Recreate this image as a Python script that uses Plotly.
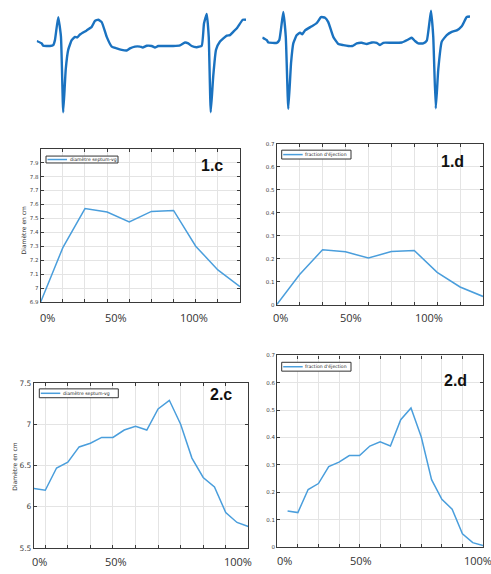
import plotly.graph_objects as go

W, H = 491, 574

# ---------------- data ----------------
# ECG traces (time in ms, amplitude in arbitrary mV units)
ecg1_t = [0, 20, 26, 53, 66, 73, 86, 97, 106, 116, 126, 140, 153, 162, 173, 200, 220, 233, 246, 260,
          280, 300, 320, 340, 360, 373, 393, 413, 424, 440, 460, 473, 486, 520, 546, 573, 593, 606, 620,
          640, 660, 669, 680, 688, 696, 706, 717, 733, 760, 773, 786, 802, 824, 837]
ecg1_v = [0.18, 0.10, 0.02, 0.01, 0.04, 0.21, 0.99, 0.33, -2.23, -0.79, -0.12, 0.21, 0.32, 0.30, 0.40,
          0.54, 0.66, 0.86, 0.90, 0.82, 0.32, -0.01, -0.07, -0.12, -0.14, -0.07, -0.01, -0.01, -0.04,
          0.02, 0.01, -0.04, 0.01, 0.01, 0.01, 0.03, 0.13, 0.10, 0.01, -0.03, 0.02, 0.77, 1.10, 0.32,
          -2.23, -1.01, -0.12, 0.16, 0.36, 0.38, 0.49, 0.63, 0.90, 0.90]
ecg2_t = [0, 18, 24, 58, 68, 84, 94, 104, 115, 124, 138, 151, 160, 171, 198, 218, 235, 251, 264, 284,
          304, 324, 344, 360, 378, 398, 418, 438, 458, 471, 484, 518, 558, 584, 598, 611, 624, 644, 658,
          675, 684, 694, 704, 718, 738, 758, 778, 798, 818, 831]
ecg2_v = [0.20, 0.11, 0.03, 0.02, 0.11, 1.06, 0.22, -2.22, -0.67, 0.00, 0.28, 0.36, 0.31, 0.44, 0.58,
          0.69, 0.89, 0.87, 0.72, 0.22, -0.02, -0.06, -0.09, -0.09, 0.00, 0.02, -0.02, 0.03, 0.02, -0.06,
          0.02, 0.02, 0.03, 0.13, 0.19, 0.08, 0.00, 0.00, 0.09, 1.11, 0.22, -2.20, -0.89, 0.06, 0.28,
          0.39, 0.44, 0.58, 0.89, 0.91]

# Panel 1 (10 samples)
idx1 = list(range(1, 11))
diam_1c = [6.90, 7.29, 7.57, 7.545, 7.475, 7.55, 7.557, 7.30, 7.13, 7.01]
fe_1d = [0.0, 0.131, 0.239, 0.230, 0.203, 0.231, 0.236, 0.141, 0.077, 0.036]

# Panel 2 (20 samples)
idx2 = list(range(1, 21))
diam_2c = [6.22, 6.20, 6.47, 6.54, 6.725, 6.77, 6.84, 6.84, 6.93, 6.975, 6.93, 7.185, 7.29, 7.00,
           6.59, 6.355, 6.24, 5.93, 5.81, 5.76]
fe_2d = [0.132, 0.126, 0.210, 0.232, 0.294, 0.310, 0.334, 0.334, 0.369, 0.384, 0.369, 0.465, 0.508,
         0.402, 0.246, 0.174, 0.138, 0.048, 0.016, 0.006]

series_diam = "diamètre septum-vg"
series_fe = "fraction d'éjection"
ytitle = "Diamètre en cm"
pct_labels = ["0%", "50%", "100%"]
panel_tags = ["1.c", "1.d", "2.c", "2.d"]

ticks_1c = [6.9, 7.0, 7.1, 7.2, 7.3, 7.4, 7.5, 7.6, 7.7, 7.8, 7.9]
ticktext_1c = ["6.9", "7", "7.1", "7.2", "7.3", "7.4", "7.5", "7.6", "7.7", "7.8", "7.9"]
ticks_fe = [0, 0.1, 0.2, 0.3, 0.4, 0.5, 0.6, 0.7]
ticktext_fe = ["0", "0.1", "0.2", "0.3", "0.4", "0.5", "0.6", "0.7"]
ticks_2c = [5.5, 6.0, 6.5, 7.0, 7.5]
ticktext_2c = ["5.5", "6", "6.5", "7", "7.5"]

# ---------------- helpers ----------------
def xd(a, b):
    return [a / W, b / W]

def yd(top, bottom):
    return [1 - bottom / H, 1 - top / H]

def px(x):
    return x / W

def py(y):
    return 1 - y / H

ECG_COL = "#1a72c0"
LINE_COL = "#4a9edc"
FRAME = "#3a3a3a"
GRID = "#e4e4e4"

fig = go.Figure()

fig.add_trace(go.Scatter(x=ecg1_t, y=ecg1_v, mode="lines", line=dict(color=ECG_COL, width=2.4, shape="spline", smoothing=0.4),
                         xaxis="x", yaxis="y", showlegend=False, hoverinfo="skip"))
fig.add_trace(go.Scatter(x=ecg2_t, y=ecg2_v, mode="lines", line=dict(color=ECG_COL, width=2.4, shape="spline", smoothing=0.4),
                         xaxis="x2", yaxis="y2", showlegend=False, hoverinfo="skip"))

fig.add_trace(go.Scatter(x=idx1, y=diam_1c, mode="lines", name=series_diam, line=dict(color=LINE_COL, width=1.5),
                         xaxis="x3", yaxis="y3", showlegend=False))
fig.add_trace(go.Scatter(x=idx1, y=fe_1d, mode="lines", name=series_fe, line=dict(color=LINE_COL, width=1.5),
                         xaxis="x4", yaxis="y4", showlegend=False))
fig.add_trace(go.Scatter(x=idx2, y=diam_2c, mode="lines", name=series_diam, line=dict(color=LINE_COL, width=1.5),
                         xaxis="x5", yaxis="y5", showlegend=False))
fig.add_trace(go.Scatter(x=idx2, y=fe_2d, mode="lines", name=series_fe, line=dict(color=LINE_COL, width=1.5),
                         xaxis="x6", yaxis="y6", showlegend=False))

hidden = dict(visible=False, showgrid=False, zeroline=False, fixedrange=True)

def frame_x(dom, rng, tickvals, anchor):
    return dict(domain=dom, range=rng, tickvals=tickvals, showticklabels=False, ticks="inside",
                ticklen=3, tickcolor=FRAME, showline=True, linecolor=FRAME, linewidth=1.2,
                mirror="ticks", showgrid=True, gridcolor=GRID, gridwidth=1, zeroline=False,
                anchor=anchor)

def frame_y(dom, rng, tickvals, ticktext, size, anchor):
    return dict(domain=dom, range=rng, tickvals=tickvals, ticktext=ticktext, ticks="inside",
                ticklen=3, tickcolor=FRAME, showline=True, linecolor=FRAME, linewidth=1.2,
                mirror="ticks", showgrid=True, gridcolor=GRID, gridwidth=1, zeroline=False,
                tickfont=dict(size=size, color="#444", family="DejaVu Sans"), anchor=anchor)

layout = dict(
    width=W, height=H, margin=dict(l=0, r=0, t=0, b=0),
    paper_bgcolor="white", plot_bgcolor="white", showlegend=False,
    xaxis=dict(domain=xd(36.7, 246), range=[0, 837], anchor="y", **hidden),
    yaxis=dict(domain=yd(4, 118), range=[-2.5, 1.3], anchor="x", **hidden),
    xaxis2=dict(domain=xd(262.3, 470), range=[0, 831], anchor="y2", **hidden),
    yaxis2=dict(domain=yd(1, 115), range=[-2.5, 1.3], anchor="x2", **hidden),
    xaxis3=frame_x(xd(40.7, 240), [1, 10], idx1, "y3"),
    yaxis3=frame_y(yd(147, 302.7), [6.9, 8.0], ticks_1c, ticktext_1c, 5.5, "x3"),
    xaxis4=frame_x(xd(276.7, 483), [1, 10], idx1, "y4"),
    yaxis4=frame_y(yd(142, 305.5), [0, 0.7], ticks_fe, ticktext_fe, 5.5, "x4"),
    xaxis5=frame_x(xd(34, 248.3), [1, 20], list(range(2, 21, 2)), "y5"),
    yaxis5=frame_y(yd(385, 552.7), [5.5, 7.5], ticks_2c, ticktext_2c, 7.5, "x5"),
    xaxis6=frame_x(xd(277.3, 483), [0, 20], list(range(0, 21, 2)), "y6"),
    yaxis6=frame_y(yd(357, 551.7), [0, 0.7], ticks_fe, ticktext_fe, 5.5, "x6"),
)
fig.update_layout(**layout)

# ---- compact MATLAB-style legends (box, line sample, label) ----
shapes = []
ann = []
legend_boxes = [
    (series_diam, 46, 118, 154.5, 161.5),
    (series_fe, 281.7, 351, 148.5, 157.5),
    (series_diam, 39.3, 118.3, 391, 400),
    (series_fe, 281.7, 351, 364, 373),
]
for label, x0, x1, y0, y1 in legend_boxes:
    shapes.append(dict(type="rect", xref="paper", yref="paper", x0=px(x0), x1=px(x1), y0=py(y1), y1=py(y0),
                       line=dict(color="#333", width=1), fillcolor="white", layer="above"))
    ym = (y0 + y1) / 2
    shapes.append(dict(type="line", xref="paper", yref="paper", x0=px(x0 + 1.5), x1=px(x0 + 21), y0=py(ym), y1=py(ym),
                       line=dict(color=LINE_COL, width=1.5), layer="above"))
    ann.append(dict(x=px(x0 + 21.5), y=py(ym), xref="paper", yref="paper", text=label, showarrow=False,
                    xanchor="left", yanchor="middle", font=dict(size=4.6, color="#222", family="DejaVu Sans")))

pct_pos = [
    ([47, 116, 194], 318),
    ([280, 351, 428.5], 318),
    ([39, 116, 238], 566.7),
    ([284, 361, 478], 565),
]
for xs, yy in pct_pos:
    for lab, xx in zip(pct_labels, xs):
        ann.append(dict(x=px(xx), y=py(yy), xref="paper", yref="paper", text=lab, showarrow=False,
                        xanchor="center", yanchor="middle",
                        font=dict(size=11, color="#333", family="Open Sans")))

tag_pos = [(212, 164), (452, 160), (221, 397), (455, 383)]
for tag, (xx, yy) in zip(panel_tags, tag_pos):
    ann.append(dict(x=px(xx), y=py(yy), xref="paper", yref="paper", text="<b>%s</b>" % tag,
                    showarrow=False, xanchor="center", yanchor="middle",
                    font=dict(size=16, color="#111", family="Liberation Sans")))

for xx, yy in [(23, 230), (15, 470)]:
    ann.append(dict(x=px(xx), y=py(yy), xref="paper", yref="paper", text=ytitle, showarrow=False,
                    textangle=-90, xanchor="center", yanchor="middle",
                    font=dict(size=6, color="#333", family="DejaVu Sans")))

fig.update_layout(annotations=ann, shapes=shapes)
fig.write_html("out.html")
